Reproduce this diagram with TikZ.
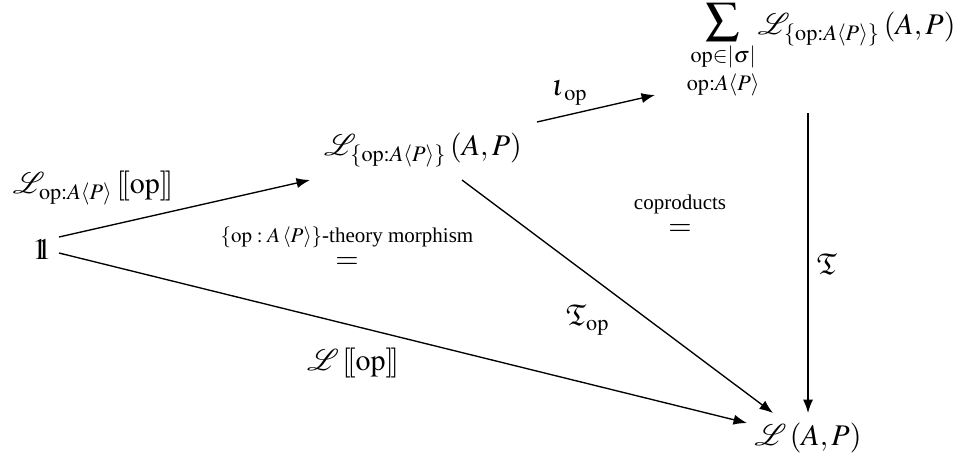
\documentclass[tikz,border=0pt]{standalone}
\usepackage{amsmath,amssymb}
\usepackage{mathptmx}
\usepackage{fontspec}
\setmainfont{Liberation Serif}
\usepackage{graphicx}
\usetikzlibrary{arrows.meta,calc}
\newcommand{\dblone}{\rlap{$\mathrm{1}$}\kern0.14em$\mathrm{1}$}
\newcommand{\lsem}{[\![}
\newcommand{\rsem}{]\!]}
\newcommand{\bigsum}{\mathop{\raisebox{1.5pt}{$\vcenter{\hbox{\resizebox*{11.5pt}{12.7pt}{$\displaystyle\sum$}}}$}}}
\begin{document}
\begin{tikzpicture}[x=0.3333pt,y=-0.3333pt,
  arr/.style={line width=0.45pt,-{Latex[length=4.5pt,width=3.4pt]}},
  lab/.style={inner sep=0pt},
  small/.style={inner sep=0pt,font=\scriptsize}]
\useasboundingbox (0,0) rectangle (957,462);
\node[lab] (one) at (42,249) {\dblone};
\node[lab] (mid) at (423,150) {$\mathcal{L}_{\{\mathrm{op}:A\langle P\rangle\}}\left(A,P\right)$};
\node[lab,anchor=base east] (sum) at (956,34) {$\displaystyle\bigsum\limits_{\substack{\mathrm{op}\in|\boldsymbol{\sigma}|\\[1pt] \mathrm{op}:A\langle P\rangle}}\mkern-3mu\mathcal{L}_{\{\mathrm{op}:A\langle P\rangle\}}\left(A,P\right)$};
\node[lab] (bot) at (808,438) {$\mathcal{L}\left(A,P\right)$};
\draw[arr] ([shift={(17,-12)}]one.center) -- ([shift={(-113,30)}]mid.center);
\draw[arr] ([shift={(17,4)}]one.center) -- ([shift={(-61,-15)}]bot.center);
\draw[arr] ([shift={(114,-28)}]mid.center) -- ([shift={(-301,61)}]sum.base east);
\draw[arr] ([shift={(39,30)}]mid.center) -- ([shift={(-35,-25)}]bot.center);
\draw[arr] ([shift={(-148,79)}]sum.base east) -- ([shift={(0,-25)}]bot.center);
\node[lab] (lab1) at (93,188) {$\mathcal{L}_{\mathrm{op}:A\langle P\rangle}\,\lsem\mathrm{op}\rsem$};
\node[lab] (iota) at (570,93) {$\boldsymbol{\iota}_{\mathrm{op}}$};
\node[lab] (Top) at (588,320) {$\mathfrak{T}_{\mathrm{op}}$};
\node[lab] (T) at (827,264) {$\mathfrak{T}$};
\node[lab] (Lop) at (353,363) {$\mathcal{L}\,\lsem\mathrm{op}\rsem$};
\node[small] (thmtext) at (347,237) {$\{\mathrm{op}:A\left\langle P\right\rangle\}$-theory morphism};
\node[lab] (thmeq) at (347,263) {$=$};
\node[small] (coptext) at (680,204) {coproducts};
\node[lab] (copeq) at (680,230) {$=$};
\end{tikzpicture}
\end{document}
